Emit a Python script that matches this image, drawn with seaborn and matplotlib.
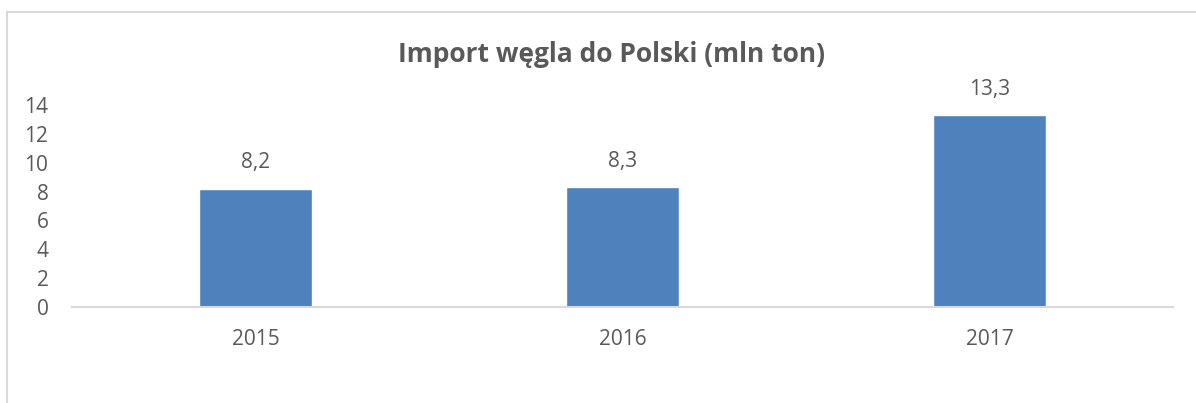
import pandas as pd
import seaborn as sns
import matplotlib.pyplot as plt
from matplotlib.patches import Rectangle

# dane
years = ['2015', '2016', '2017']
imports = [8.2, 8.3, 13.3]
value_labels = ['8,2', '8,3', '13,3']
y_ticks = [0, 2, 4, 6, 8, 10, 12, 14]

df = pd.DataFrame({'Rok': years, 'Import': imports})

sns.set_style('white')
plt.rcParams['font.family'] = ['Open Sans', 'DejaVu Sans']
text_color = '#595959'

fig = plt.figure(figsize=(11.96, 4.03), dpi=100)
ax = fig.add_axes([0.0602, 0.2382, 0.9206, 0.5013])

sns.barplot(data=df, x='Rok', y='Import', color='#4F81BD', saturation=1,
            width=0.31, ax=ax)

ax.set_xlim(-0.5, 2.5)
ax.set_ylim(0, 14)
ax.set_yticks(y_ticks)
ax.set_yticklabels([str(t) for t in y_ticks])
ax.set_xlabel('')
ax.set_ylabel('')

for side in ['top', 'right', 'left']:
    ax.spines[side].set_visible(False)
ax.spines['bottom'].set_color('#D9D9D9')
ax.spines['bottom'].set_linewidth(1.5)

ax.tick_params(axis='both', length=0, labelsize=15, colors=text_color)
ax.tick_params(axis='x', pad=16)
ax.tick_params(axis='y', pad=17)

# etykiety wartości
for i, (v, lab) in enumerate(zip(imports, value_labels)):
    ax.annotate(lab, (i, v), xytext=(0, 11), textcoords='offset points',
                ha='center', va='bottom', fontsize=15, color=text_color)

fig.text(0.511, 0.865, 'Import węgla do Polski (mln ton)', ha='center', va='center',
         fontsize=19, fontweight='bold', color=text_color)

# ramka obszaru wykresu
fig.patches.append(Rectangle((7 / 1196, -0.05), 1.2, 1 - 12 / 403 + 0.05,
                             transform=fig.transFigure, fill=False,
                             edgecolor='#D9D9D9', linewidth=1.5))

fig.savefig('out.png', dpi=100)
